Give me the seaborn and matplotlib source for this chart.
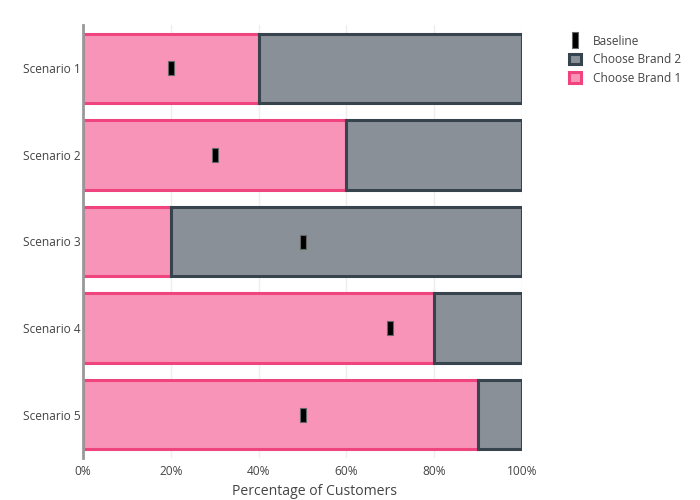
import matplotlib
matplotlib.use("Agg")
import matplotlib.pyplot as plt
import seaborn as sns
import pandas as pd
import numpy as np
from matplotlib.path import Path
from matplotlib.lines import Line2D
from matplotlib.patches import Patch

scenarios = ["Scenario 1", "Scenario 2", "Scenario 3", "Scenario 4", "Scenario 5"]
brand1 = [40, 60, 20, 80, 90]
brand2 = [60, 40, 80, 20, 10]
baseline = [20, 30, 50, 70, 50]

sns.set_theme(style="white")
plt.rcParams['font.family'] = ['Open Sans', 'DejaVu Sans']

pink_fill = "#f894b8"
pink_edge = "#f0447e"
grey_fill = "#8a9097"
grey_edge = "#37434d"
txt = "#444444"

df = pd.DataFrame({"scenario": scenarios, "brand1": brand1, "brand2": brand2, "baseline": baseline})

fig = plt.figure(figsize=(7, 5), dpi=100)
ax = fig.add_axes([83/700, 42/500, (522-83)/700, (475-42)/500])

sns.barplot(data=df, y="scenario", x="brand1", orient="h", color=pink_fill, saturation=1,
            edgecolor=pink_edge, linewidth=2.2, width=0.8, ax=ax, zorder=2)
ypos = np.arange(len(scenarios))
ax.barh(ypos, df["brand2"], left=df["brand1"], height=0.8, color=grey_fill,
        edgecolor=grey_edge, linewidth=2.2, zorder=3)

rect = Path([(-0.36, -1), (0.36, -1), (0.36, 1), (-0.36, 1), (-0.36, -1)],
            [Path.MOVETO, Path.LINETO, Path.LINETO, Path.LINETO, Path.CLOSEPOLY])
sns.scatterplot(data=df, y="scenario", x="baseline", marker=rect, s=110, color="black",
                edgecolor="#666666", linewidth=0.8, ax=ax, zorder=5, legend=False)

ax.set_xlim(0, 100)
ax.set_ylim(4.5, -0.5)
ax.set_xticks([0, 20, 40, 60, 80, 100])
ax.set_xticklabels(["0%", "20%", "40%", "60%", "80%", "100%"], color=txt, fontsize=8.6)
ax.tick_params(axis="y", labelsize=8.6, labelcolor=txt, length=0, pad=1.5)
ax.tick_params(axis="x", length=0, pad=5)
ax.xaxis.grid(True, color="#eeeeee", linewidth=1, zorder=0)
ax.set_axisbelow(True)
for s in ["top", "right", "bottom"]:
    ax.spines[s].set_visible(False)
ax.spines["left"].set_color("#999999")
ax.spines["left"].set_linewidth(2)
ax.spines["left"].set_zorder(6)
ax.set_ylabel("")
ax.set_xlabel("Percentage of Customers", color=txt, fontsize=10.1)
ax.xaxis.set_label_coords((314-83)/439, -(484-458)/433)

handles = [
    Line2D([], [], marker=rect, linestyle="none", markersize=11, markerfacecolor="black",
           markeredgecolor="#666666", markeredgewidth=0.8),
    Patch(facecolor=grey_fill, edgecolor=grey_edge, linewidth=2.2),
    Patch(facecolor=pink_fill, edgecolor=pink_edge, linewidth=2.2),
]
leg = fig.legend(handles, ["Baseline", "Choose Brand 2", "Choose Brand 1"],
                 loc="upper left", bbox_to_anchor=(558/700, 1-24/500), frameon=False,
                 fontsize=8.6, handlelength=1.0, handleheight=1.0, labelspacing=0.45,
                 handletextpad=1.0)
for t in leg.get_texts():
    t.set_color(txt)

fig.savefig("out.png", dpi=100)
